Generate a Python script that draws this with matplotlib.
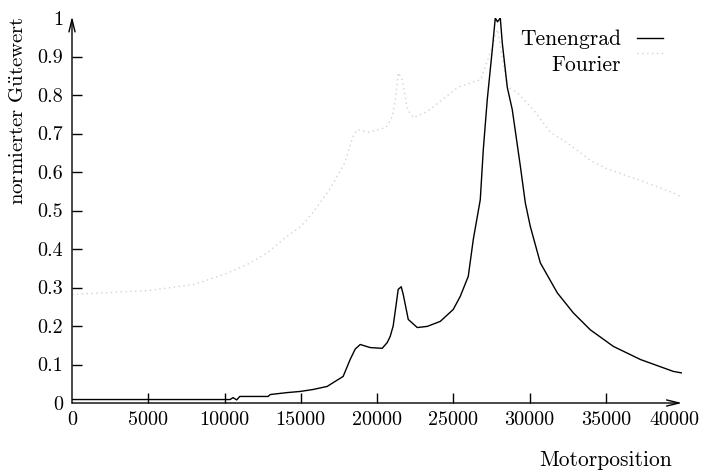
import matplotlib
matplotlib.use('Agg')
import matplotlib.pyplot as plt
from matplotlib.lines import Line2D
from matplotlib.transforms import ScaledTranslation

plt.rcParams['font.family'] = 'cmr10'
plt.rcParams['mathtext.fontset'] = 'cm'
plt.rcParams['axes.formatter.use_mathtext'] = True

# Tenengrad (black solid)
ten_x = [0, 9900, 10370, 10560, 10800, 11000, 12860, 13000, 14100, 14960, 15800,
         16730, 17130, 17780, 18240, 18570, 18900, 19550, 20340, 20670, 20866,
         21060, 21194, 21390, 21590, 21720, 22050, 22640, 23300, 24150, 25000,
         25460, 25985, 26315, 26772, 26970, 27230, 27560, 27756, 27900, 28085,
         28215, 28543, 28870, 29400, 29725, 30050, 30709, 31824, 32875, 33990,
         35500, 37270, 39436, 40000]
ten_y = [0.009, 0.009, 0.009, 0.014, 0.008, 0.017, 0.017, 0.022, 0.027, 0.030, 0.035,
         0.043, 0.053, 0.069, 0.113, 0.140, 0.152, 0.144, 0.142, 0.157, 0.173,
         0.200, 0.238, 0.295, 0.302, 0.282, 0.217, 0.196, 0.199, 0.212, 0.243,
         0.277, 0.329, 0.425, 0.528, 0.658, 0.788, 0.918, 1.0, 0.99, 1.0,
         0.935, 0.820, 0.762, 0.615, 0.520, 0.459, 0.364, 0.286, 0.234, 0.190,
         0.147, 0.113, 0.082, 0.078]

# Fourier (light dotted)
fou_x = [0, 2500, 5000, 8000, 10000, 11500, 12800, 14000, 15000, 15800, 16900,
         17900, 18400, 18700, 19500, 20600, 21000, 21200, 21400, 21650, 22000,
         22400, 23300, 25300, 26800, 27500, 27900, 28200, 28550, 29200, 30250,
         31400, 32500, 34000, 35000, 36400, 37500, 39400, 40000]
fou_y = [0.282, 0.287, 0.292, 0.308, 0.334, 0.360, 0.390, 0.430, 0.458, 0.495, 0.555,
         0.625, 0.690, 0.710, 0.703, 0.716, 0.744, 0.788, 0.858, 0.840, 0.762,
         0.741, 0.757, 0.820, 0.840, 0.918, 0.970, 0.900, 0.822, 0.806, 0.762,
         0.702, 0.675, 0.630, 0.610, 0.590, 0.575, 0.546, 0.535]

xticks = [0, 5000, 10000, 15000, 20000, 25000, 30000, 35000, 40000]
yticks = [0, 0.1, 0.2, 0.3, 0.4, 0.5, 0.6, 0.7, 0.8, 0.9, 1]

W, H = 704, 472
fou_col = '#d2d2d2'
fig = plt.figure(figsize=(W / 100, H / 100), dpi=100)
ax = fig.add_axes([72 / W, 1 - 403 / H, (682 - 72) / W, (403 - 18) / H])

ax.plot(fou_x, fou_y, color=fou_col, lw=1.0, dashes=(1, 2.5))
ax.plot(ten_x, ten_y, color='black', lw=1.0)

ax.set_xlim(0, 40000)
ax.set_ylim(0, 1)
for s in ['top', 'right', 'left', 'bottom']:
    ax.spines[s].set_visible(False)

ax.set_xticks(xticks)
ax.set_xticklabels([str(t) for t in xticks])
ax.set_yticks(yticks)
ax.set_yticklabels(['0' if t == 0 else ('1' if t == 1 else '%.1f' % t) for t in yticks])
ax.tick_params(axis='both', direction='in', length=7, width=1, labelsize=14.5, color='black')
ax.tick_params(axis='x', pad=6)
ax.tick_params(axis='y', pad=6.5)
for tk in (ax.xaxis.get_major_ticks()[0], ax.xaxis.get_major_ticks()[-1],
           ax.yaxis.get_major_ticks()[0], ax.yaxis.get_major_ticks()[-1]):
    tk.tick1line.set_visible(False)
# last x label pulled in so it stays inside the picture
lab = ax.get_xticklabels()[-1]
lab.set_transform(lab.get_transform() + ScaledTranslation(-8 / 100, 0, fig.dpi_scale_trans))

arrow = dict(arrowstyle='->,head_length=0.9,head_width=0.22', lw=1, color='black',
             shrinkA=0, shrinkB=0)
ax.annotate('', xy=(1, 0), xytext=(0, 0), xycoords='axes fraction', arrowprops=arrow)
ax.annotate('', xy=(0, 1.004), xytext=(0, 0), xycoords='axes fraction', arrowprops=arrow)

# legend, drawn by hand like gnuplot
fig.text(621 / W, 1 - 39 / H, 'Tenengrad', ha='right', va='center', fontsize=15.5)
fig.text(621 / W, 1 - 65 / H, 'Fourier', ha='right', va='center', fontsize=15.5)
fig.add_artist(Line2D([637 / W, 663 / W], [1 - 38 / H, 1 - 38 / H], color='black', lw=1))
fig.add_artist(Line2D([637 / W, 663 / W], [1 - 53 / H, 1 - 53 / H], color=fou_col,
                      lw=1, dashes=(1, 2.5)))

fig.text(18 / W, 1 - 111 / H, r'$\mathrm{normierter\ G\ddot{u}tewert}$', rotation=90,
         ha='center', va='center', fontsize=15)
fig.text(606 / W, 1 - 460 / H, 'Motorposition', ha='center', va='center', fontsize=15.5)

fig.savefig('out.png', dpi=100)
